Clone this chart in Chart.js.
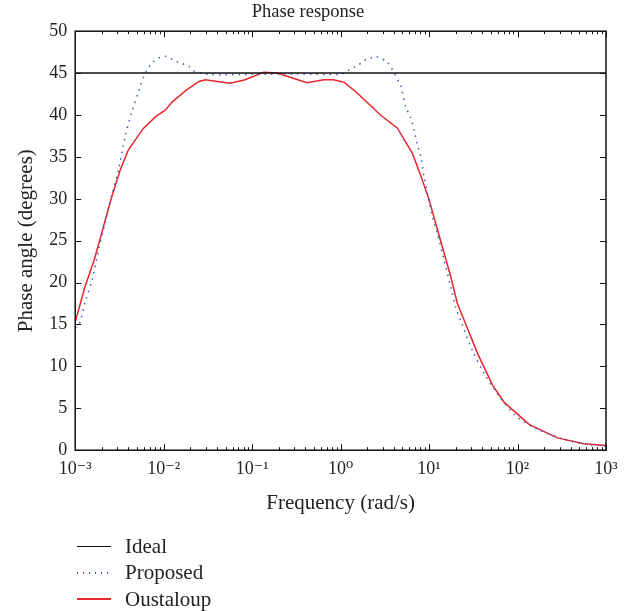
<!DOCTYPE html>
<html>
<head>
<meta charset="utf-8">
<script src="https://cdn.jsdelivr.net/npm/chart.js@4.4.1/dist/chart.umd.min.js"></script>
<style>
  body { margin: 0; background: #fff; }
  #wrap { position: relative; width: 634px; height: 611px; }
  #legend { position: absolute; left: 77px; top: 533px; font-family: "Liberation Serif", "DejaVu Serif", serif; font-size: 21px; color: #222; }
  #legend div { height: 26.5px; display: flex; align-items: center; }
  #legend span.line { display: inline-block; width: 34px; height: 2px; margin-right: 14px; }
</style>
</head>
<body>
<div id="wrap">
  <canvas id="phaseChart" width="634" height="611"></canvas>
  <div id="legend">
    <div><span class="line" style="background: #111; height: 1.5px;"></span>Ideal</div>
    <div><span class="line" style="background: repeating-linear-gradient(90deg, #3a5db5 0 1.5px, transparent 1.5px 6px);"></span>Proposed</div>
    <div><span class="line" style="background: #e8262c;"></span>Oustaloup</div>
  </div>
</div>
<script>
// Frequencies (rad/s) and phase angles (degrees)
const idealFreq = [0.001, 1000];
const idealPhase = [45, 45];

const proposedFreq = [0.001, 0.0011, 0.0013, 0.00155, 0.00184, 0.00219, 0.0026, 0.00309, 0.00368, 0.00437,
    0.00521, 0.0062, 0.0077, 0.0102, 0.0139, 0.0192, 0.0219, 0.0316, 0.1, 0.316, 1, 1.19, 1.36, 1.61, 1.84,
    2.19, 2.49, 3.37, 4.02, 4.79, 5.44, 6.21, 6.76, 7.38, 8.05, 8.77, 9.75, 10.9, 12.4, 14.8, 17.6, 20.0,
    23.8, 30.9, 40.2, 59.4, 95.5, 168, 337, 617, 1000];
const proposedPhase = [14.6, 14.9, 17.7, 20.3, 23.9, 27.3, 30.5, 33.5, 37.5, 40.4,
    42.8, 45.0, 46.4, 47.0, 46.4, 45.8, 45.25, 44.85, 44.85, 44.9, 44.85, 45.25, 45.6, 46.0, 46.5,
    46.8, 47.0, 46.3, 45.0, 43.4, 41.0, 39.65, 38.25, 36.45, 35.05, 32.65, 30.25, 27.85, 25.86, 22.66, 19.46, 17.06,
    14.9, 11.9, 9.5, 6.7, 4.1, 2.5, 1.3, 0.68, 0.5];

const oustaloupFreq = [0.001, 0.00129, 0.00164, 0.00209, 0.0026, 0.00324, 0.00398, 0.00589, 0.00813, 0.0105,
    0.0126, 0.0182, 0.0251, 0.0295, 0.0562, 0.0832, 0.135, 0.191, 0.269, 0.417, 0.646, 0.832, 1.0, 1.10,
    1.55, 2.19, 2.82, 4.37, 6.46, 8.13, 10, 13.5, 17.6, 20.9, 35.5, 52.5, 70.8, 135, 282, 562, 1000];
const oustaloupPhase = [15.3, 19.5, 22.7, 26.7, 30.3, 33.5, 35.8, 38.4, 39.8, 40.6,
    41.6, 43.0, 44.0, 44.2, 43.8, 44.2, 45.1, 45.0, 44.5, 43.85, 44.2, 44.2, 44.0, 43.9,
    42.6, 41.1, 40.0, 38.45, 35.45, 32.65, 29.9, 25.0, 20.7, 17.5, 11.5, 7.7, 5.7, 3.08, 1.47, 0.76, 0.56];

const decadeLabels = ['10\u207B\u00B3', '10\u207B\u00B2', '10\u207B\u00B9', '10\u2070', '10\u00B9', '10\u00B2', '10\u00B3'];
const yTicks = [0, 5, 10, 15, 20, 25, 30, 35, 40, 45, 50];

const toPoints = (xs, ys) => xs.map((x, i) => ({ x: x, y: ys[i] }));
const serif = '"Liberation Serif", "DejaVu Serif", serif';

// log ticks: 1..9 in each decade
function logTicks() {
    const t = [];
    for (let e = -3; e <= 3; e++) {
        for (let m = 1; m <= 9; m++) {
            if (e === 3 && m > 1) break;
            t.push({ value: m * Math.pow(10, e) });
        }
    }
    return t;
}
function isDecade(v) {
    const l = Math.log10(v);
    return Math.abs(l - Math.round(l)) < 1e-6;
}

// frame and inward ticks on all four sides
const frameTicks = {
    id: 'frameTicks',
    afterDatasetsDraw(chart) {
        const { ctx, chartArea: a, scales } = chart;
        ctx.save();
        ctx.strokeStyle = '#111';
        ctx.lineWidth = 1.5;
        ctx.strokeRect(a.left, a.top, a.right - a.left, a.bottom - a.top);
        ctx.lineWidth = 1;
        ctx.beginPath();
        scales.x.ticks.forEach(t => {
            const px = Math.round(scales.x.getPixelForValue(t.value)) + 0.5;
            const len = isDecade(t.value) ? 6 : 3;
            ctx.moveTo(px, a.bottom); ctx.lineTo(px, a.bottom - len);
            ctx.moveTo(px, a.top); ctx.lineTo(px, a.top + len);
        });
        yTicks.forEach(v => {
            const py = Math.round(scales.y.getPixelForValue(v)) + 0.5;
            ctx.moveTo(a.left, py); ctx.lineTo(a.left + 6, py);
            ctx.moveTo(a.right, py); ctx.lineTo(a.right - 6, py);
        });
        ctx.stroke();
        ctx.restore();
    }
};

const chartData = {
    datasets: [
        {
            label: 'Ideal',
            data: toPoints(idealFreq, idealPhase),
            borderColor: '#111',
            borderWidth: 1.5,
            pointRadius: 0
        },
        {
            label: 'Proposed',
            data: toPoints(proposedFreq, proposedPhase),
            borderColor: '#3a5db5',
            borderWidth: 1.5,
            borderDash: [1.5, 5],
            pointRadius: 0,
            tension: 0.3
        },
        {
            label: 'Oustaloup',
            data: toPoints(oustaloupFreq, oustaloupPhase),
            borderColor: '#e8262c',
            borderWidth: 1.5,
            pointRadius: 0
        }
    ]
};

const myChart = new Chart(document.getElementById('phaseChart'), {
    type: 'line',
    data: chartData,
    plugins: [frameTicks],
    options: {
        responsive: false,
        animation: false,
        layout: { padding: { left: 10, right: 28, top: 0, bottom: 91 } },
        plugins: {
            legend: { display: false },
            tooltip: { enabled: false },
            title: {
                display: true,
                text: 'Phase response',
                color: '#222',
                font: { family: serif, size: 18.5, weight: 'normal' },
                padding: { top: 1, bottom: 8 }
            }
        },
        scales: {
            x: {
                type: 'logarithmic',
                min: 0.001,
                max: 1000,
                afterBuildTicks: scale => { scale.ticks = logTicks(); },
                grid: { display: false },
                border: { display: false },
                ticks: {
                    autoSkip: false,
                    maxRotation: 0,
                    padding: 0,
                    color: '#222',
                    font: { family: serif, size: 18 },
                    callback: function (value) {
                        if (!isDecade(value)) return '';
                        return decadeLabels[Math.round(Math.log10(value)) + 3];
                    }
                },
                title: {
                    display: true,
                    text: 'Frequency (rad/s)',
                    color: '#222',
                    font: { family: serif, size: 21 },
                    padding: { top: 11 }
                }
            },
            y: {
                min: 0,
                max: 50,
                afterBuildTicks: scale => { scale.ticks = yTicks.map(v => ({ value: v })); },
                grid: { display: false },
                border: { display: false },
                ticks: {
                    padding: 0,
                    color: '#222',
                    font: { family: serif, size: 18 }
                },
                title: {
                    display: true,
                    text: 'Phase angle (degrees)',
                    color: '#222',
                    font: { family: serif, size: 21 },
                    padding: { bottom: 10 }
                }
            }
        }
    }
});
</script>
</body>
</html>
